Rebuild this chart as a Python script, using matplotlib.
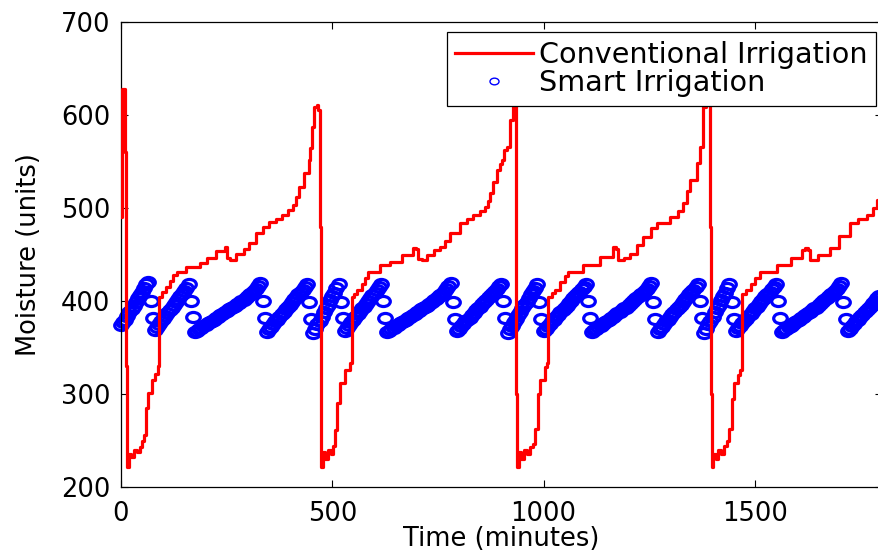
#!/usr/bin/env python3
# plot.py - soil moisture, conventional vs smart irrigation

import numpy as np
import matplotlib
matplotlib.use("Agg")
import matplotlib.pyplot as plt
from matplotlib.path import Path
from matplotlib.transforms import Affine2D

# conventional irrigation (minutes, moisture units)
conv_t = [0, 2, 8, 10, 12, 13,
          14, 18, 24, 30, 38, 44, 50, 54, 60, 64, 73, 80, 88, 90, 98, 106, 116,
          124, 132, 155, 186, 204, 226, 246, 250, 258, 273, 290, 304, 320, 335,
          351, 366, 382, 396, 406, 414, 422, 434, 444, 448, 451, 457, 463, 467,
          470, 472, 473,
          474, 478, 484, 490, 497, 502, 506, 512, 518, 530, 542, 546, 552, 558,
          570, 578, 585, 613, 636, 665, 691, 699, 703, 712, 724, 740, 755, 767,
          779, 802, 818, 833, 850, 862, 868, 873, 880, 889, 896, 901, 907, 913,
          920, 928, 932, 934, 935, 936,
          937, 941, 947, 953, 960, 968, 975, 980, 986, 991, 1003, 1009, 1011,
          1020, 1027, 1040, 1050, 1058, 1094, 1134, 1165, 1171, 1176, 1190,
          1205, 1222, 1236, 1254, 1269, 1300, 1318, 1330, 1340, 1347, 1363,
          1370, 1378, 1385, 1390, 1393, 1395, 1397,
          1398, 1402, 1408, 1414, 1421, 1428, 1434, 1440, 1446, 1452, 1460,
          1466, 1469, 1471, 1480, 1490, 1500, 1512, 1552, 1585, 1612, 1619,
          1625, 1630, 1650, 1678, 1700, 1725, 1745, 1765, 1780, 1789, 1800]
conv_v = [490, 628, 628, 560, 480, 330,
          222, 236, 232, 240, 238, 243, 250, 256, 285, 301, 315, 322, 330, 404,
          410, 415, 422, 428, 431, 437, 441, 446, 454, 458, 446, 444, 451, 456,
          462, 473, 480, 485, 488, 492, 498, 503, 512, 523, 538, 552, 565, 587,
          609, 611, 605, 560, 480, 300,
          222, 238, 230, 240, 236, 244, 261, 290, 312, 326, 333, 404, 408, 412,
          418, 425, 431, 439, 442, 449, 457, 456, 445, 444, 450, 455, 458, 465,
          473, 484, 488, 492, 497, 501, 508, 516, 528, 541, 547, 552, 562, 566,
          595, 609, 612, 560, 480, 300,
          222, 238, 230, 240, 236, 243, 246, 262, 300, 315, 329, 333, 404, 409,
          412, 420, 427, 431, 439, 447, 458, 456, 444, 446, 451, 460, 469, 478,
          484, 490, 497, 505, 518, 530, 548, 566, 609, 625, 628, 560, 480, 300,
          222, 236, 230, 240, 236, 244, 250, 262, 295, 312, 320, 326, 333, 408,
          412, 418, 425, 431, 439, 446, 455, 457, 455, 444, 449, 457, 470, 484,
          488, 492, 500, 509, 518]

# smart irrigation, one reading every 5 minutes from t = 0
smart_v = [
    374, 377, 380, 384, 388, 391, 395, 399, 403, 406, 410, 414, 418, 420,  # 0-65
    400, 382,
    369, 372, 375, 378, 381, 384, 387, 390, 393, 396, 399, 402, 405, 408,
    411, 414, 418,  # 80-160
    400, 383,
    367, 368, 370, 371, 373, 374, 376, 377, 379, 380, 382, 383, 385, 386,
    388, 389, 391, 392, 394, 395, 397, 398, 400, 401, 403, 405, 407, 409,
    411, 413, 416, 419,  # 175-330
    400, 382,
    367, 370, 372, 375, 378, 380, 383, 386, 388, 391, 394, 396, 399, 402,
    404, 407, 410, 412, 415, 418,  # 345-440
    399, 381,
    366, 370, 375, 379, 383, 388, 392, 396, 401, 405, 409, 414, 418,  # 455-515
    399, 382,
    368, 371, 374, 377, 380, 383, 386, 389, 392, 394, 397, 400, 403, 406,
    409, 412, 415, 418,  # 530-615
    400, 382,
    367, 368, 370, 371, 373, 374, 376, 377, 379, 380, 382, 383, 385, 386,
    388, 389, 391, 392, 394, 395, 397, 399, 401, 402, 404, 406, 408, 410,
    413, 416, 419,  # 630-780
    399, 381,
    368, 370, 373, 375, 378, 380, 382, 385, 387, 390, 392, 394, 397, 399,
    401, 404, 406, 409, 411, 413, 416, 418,  # 795-900
    400, 382,
    366, 370, 373, 377, 381, 385, 388, 392, 396, 399, 403, 407, 411, 414,
    418,  # 915-985
    399, 381,
    368, 370, 373, 375, 378, 380, 383, 385, 388, 390, 393, 395, 398, 400,
    403, 405, 408, 410, 413, 415, 418,  # 1000-1100
    400, 382,
    367, 369, 370, 372, 373, 375, 377, 378, 380, 382, 383, 385, 387, 388,
    390, 392, 393, 395, 397, 399, 401, 403, 405, 407, 409, 411, 413, 416,
    419,  # 1115-1255
    399, 381,
    367, 370, 372, 375, 378, 380, 383, 386, 388, 391, 394, 396, 399, 402,
    404, 407, 410, 412, 415, 418,  # 1270-1365
    400, 382,
    366, 370, 375, 379, 383, 388, 392, 396, 401, 405, 409, 414, 418,  # 1380-1440
    399, 381,
    368, 371, 373, 376, 378, 381, 384, 386, 389, 392, 394, 397, 400, 402,
    405, 407, 410, 413, 415, 418,  # 1455-1550
    400, 382,
    367, 369, 370, 372, 373, 375, 377, 378, 380, 382, 383, 385, 387, 388,
    390, 392, 393, 395, 397, 399, 401, 403, 405, 407, 409, 411, 413, 416,
    419,  # 1565-1705
    399, 381,
    368, 370, 373, 375, 378, 380, 383, 385, 388, 390, 393, 395, 398, 400,
    403, 405,  # 1720-1795
]
smart_t = np.arange(0, 5 * len(smart_v), 5)

x_ticks = [0, 500, 1000, 1500]
y_ticks = [200, 300, 400, 500, 600, 700]


def main():
    plt.rcParams["font.family"] = ["DejaVu Sans"]
    fig = plt.figure(figsize=(8.79, 5.51), dpi=100)
    # axes run a little past the right edge of the picture, like the original crop
    ax = fig.add_axes([121 / 879, 64 / 551, 760.5 / 879, 465 / 551])

    # squashed circle, the original picture is stretched sideways
    oval = Path.unit_circle().transformed(Affine2D().scale(1.0, 0.74))

    ax.plot(conv_t, conv_v, color=(1, 0, 0), lw=2.3, zorder=3,
            drawstyle="steps-post", label="Conventional Irrigation")
    ax.plot(smart_t, smart_v, ls="none", marker=oval, ms=9.8,
            mfc="none", mec=(0, 0, 1), mew=2.3, zorder=2, clip_on=False,
            label="Smart Irrigation")

    ax.set_xlim(0, 1800)
    ax.set_ylim(200, 700)
    ax.set_xticks(x_ticks)
    ax.set_yticks(y_ticks)
    ax.tick_params(direction="in", top=True, right=True, length=5, width=0.8,
                   labelsize=18.5, colors="black")
    ax.tick_params(axis="x", pad=10)
    ax.tick_params(axis="y", pad=7.5)
    for sp in ax.spines.values():
        sp.set_linewidth(0.9)
        sp.set_color("black")

    ax.set_xlabel("Time (minutes)", fontsize=18.5)
    ax.set_ylabel("Moisture (units)", fontsize=18.5)
    ax.xaxis.set_label_coords(0.5, -0.083)
    ax.yaxis.set_label_coords(-0.104, 0.5)

    leg = ax.legend(loc="upper right", bbox_to_anchor=(0.9928, 0.9785),
                    borderaxespad=0, fontsize=20.6, numpoints=1,
                    handlelength=2.7, handletextpad=0.22, labelspacing=0.02,
                    borderpad=0.3, fancybox=False, framealpha=1,
                    edgecolor="black")
    leg.get_frame().set_linewidth(0.9)
    leg.get_lines()[1].set_markersize(6.5)
    leg.get_lines()[1].set_markeredgewidth(1.0)

    fig.savefig("out.png", dpi=100)


if __name__ == "__main__":
    main()
